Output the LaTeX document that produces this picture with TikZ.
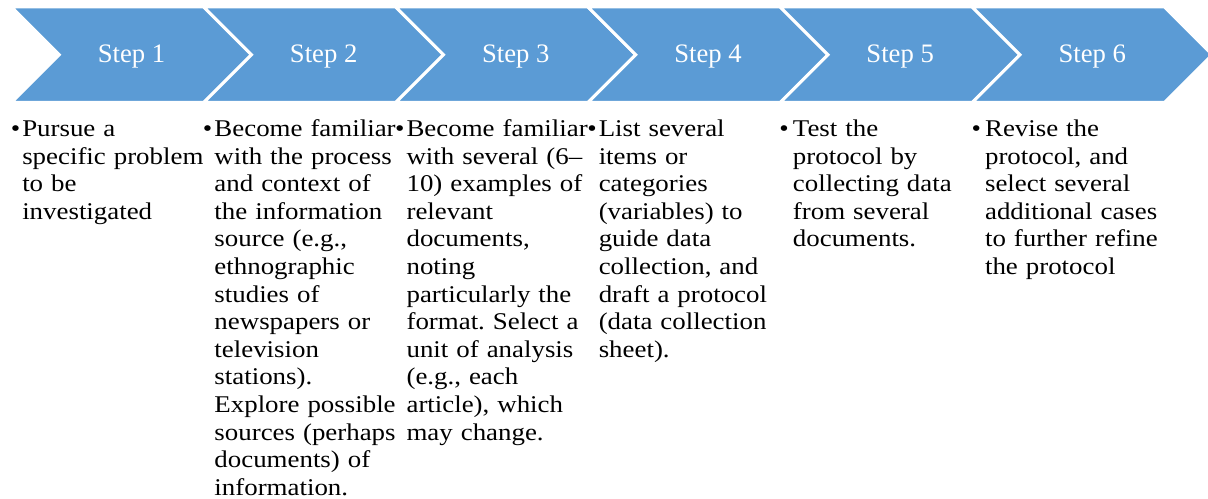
\documentclass[tikz,border=0pt]{standalone}
\usepackage{fontspec}
\setmainfont{Liberation Serif}
\newfontfamily\bodyfont{Liberation Serif}[FakeStretch=1.12]
\definecolor{chevblue}{HTML}{5B9BD5}
\begin{document}
\begin{tikzpicture}[x=0.75pt,y=-0.75pt,
  chev/.style={fill=chevblue, draw=white, line width=2.25pt, line join=miter},
  steplabel/.style={text=white, font=\fontsize{20}{24}\selectfont, anchor=base, inner sep=0pt},
  bul/.style={font=\bodyfont\fontsize{18}{20.7}\selectfont, anchor=base west, inner sep=0pt},
  body/.style={font=\bodyfont\fontsize{18}{20.7}\selectfont\frenchspacing, anchor=base west,
               inner sep=0pt, text width=200pt, align=left}
]
\useasboundingbox (0,0) rectangle (1208,499);
\def\L{192.17}
\def\h{47.75}
% chevron band
\foreach \i in {0,...,5} {
  \pgfmathsetmacro\a{11.5+\i*\L}
  \draw[chev] (\a,7) -- (\a+\L,7) -- (\a+\L+\h,54.75) -- (\a+\L,102.5)
              -- (\a,102.5) -- (\a+\h,54.75) -- cycle;
}
% step labels
\foreach \i in {1,...,6} {
  \pgfmathsetmacro\cx{11.5+(\i-1)*\L+120}
  \node[steplabel] (step\i) at (\cx,62.3) {Step \i};
}
% bullets
\foreach \i in {1,...,6} {
  \pgfmathsetmacro\bx{11.5+(\i-1)*\L-1}
  \node[bul] (bul\i) at (\bx,136.5) {•};
}
% bullet texts
\node[body] (txt1) at (22,136.5) {Pursue a\\specific problem\\to be\\investigated};
\node[body] (txt2) at (214.2,136.5) {Become familiar\\with the process\\and context of\\the information\\source (e.g.,\\ethnographic\\studies of\\newspapers or\\television\\stations).\\Explore possible\\sources (perhaps\\documents) of\\information.};
\node[body] (txt3) at (406.3,136.5) {Become familiar\\with several (6–\\10) examples of\\relevant\\documents,\\noting\\particularly the\\format. Select a\\unit of analysis\\(e.g., each\\article), which\\may change.};
\node[body] (txt4) at (598.5,136.5) {List several\\items or\\categories\\(variables) to\\guide data\\collection, and\\draft a protocol\\(data collection\\sheet).};
\node[body] (txt5) at (792.7,136.5) {Test the\\protocol by\\collecting data\\from several\\documents.};
\node[body] (txt6) at (984.8,136.5) {Revise the\\protocol, and\\select several\\additional cases\\to further refine\\the protocol};
\end{tikzpicture}
\end{document}
